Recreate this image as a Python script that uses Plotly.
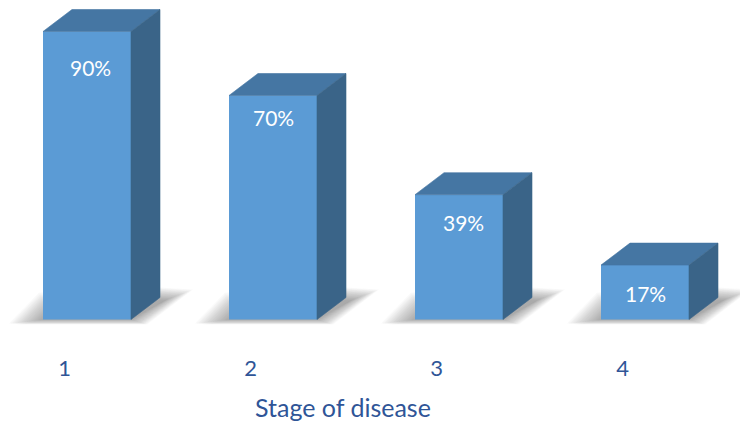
import plotly.graph_objects as go

stages = [1, 2, 3, 4]
stage_labels = ["1", "2", "3", "4"]
percent = [90, 70, 39, 17]
value_labels = ["90%", "70%", "39%", "17%"]
label_shift_x = [3, 0, 4, 0]
label_shift_y = [-36, -22, -28, -28]

FRONT = "#5B9BD5"
TOP = "#4576A3"
SIDE = "#3A6488"
INK = "#2F5597"

WIDTH, HEIGHT = 740, 421
PLOT_BOTTOM = 345
PX_X = 186.0        # pixels per stage
PX_Y = 3.2          # pixels per percentage point
BAR_PX = 88
DEPTH_X, DEPTH_Y = 29, 22
dx = 1 / PX_X
dy = 1 / PX_Y

x_range = [1 - 87 * dx, 1 + (WIDTH - 87) * dx]
y_range = [(319.5 - PLOT_BOTTOM) * dy, 319.5 * dy]


def soft_shadow(stage, layers=20):
    """Stack translucent polygons that tighten towards the foot of the box."""
    left = stage - BAR_PX / 2 * dx
    outer = [(-34, 4), (-4, -27), (117, -32), (150, -30), (104, 5), (-22, 5)]
    inner = [(0, 0), (4, -4), (117, -19), (122, -19), (88, 0), (4, 0)]
    out = []
    for k in range(layers):
        t = k / (layers - 1)
        pts = [
            (left + (a[0] + (b[0] - a[0]) * t) * dx, -(a[1] + (b[1] - a[1]) * t) * dy)
            for a, b in zip(outer, inner)
        ]
        path = "M " + " L ".join(f"{x:.4f} {y:.4f}" for x, y in pts) + " Z"
        out.append(dict(type="path", path=path, xref="x", yref="y", layer="below",
                        fillcolor="rgba(90,90,90,0.026)", line=dict(width=0)))
    return out


fig = go.Figure()

# Front faces
fig.add_trace(go.Bar(x=stages, y=percent, width=BAR_PX * dx,
                     marker=dict(color=FRONT, line=dict(width=0)), hoverinfo="skip"))

half = BAR_PX / 2 * dx
ox, oy = DEPTH_X * dx, DEPTH_Y * dy

# Top and side faces of each box
for s, v in zip(stages, percent):
    fig.add_trace(go.Scatter(
        x=[s - half, s + half, s + half + ox, s - half + ox, s - half],
        y=[v, v, v + oy, v + oy, v],
        mode="lines", fill="toself", fillcolor=TOP,
        line=dict(width=0.6, color=TOP), hoverinfo="skip"))
    fig.add_trace(go.Scatter(
        x=[s + half, s + half + ox, s + half + ox, s + half, s + half],
        y=[v, v + oy, oy, 0, v],
        mode="lines", fill="toself", fillcolor=SIDE,
        line=dict(width=0.6, color=SIDE), hoverinfo="skip"))

shapes = []
for s in stages:
    shapes += soft_shadow(s)

annotations = [
    dict(x=s, y=v, xref="x", yref="y", text=t, showarrow=False, xanchor="center",
         yanchor="middle", xshift=sx, yshift=sy,
         font=dict(family="Lato", size=21, color="white"))
    for s, v, t, sx, sy in zip(stages, percent, value_labels, label_shift_x, label_shift_y)
]
# Axis caption sits left of the plot centre, so it is placed as an annotation
annotations.append(dict(x=343 / WIDTH, y=(PLOT_BOTTOM - 407) / PLOT_BOTTOM,
                        xref="paper", yref="paper", text="Stage of disease",
                        showarrow=False, xanchor="center", yanchor="middle",
                        font=dict(family="Lato", size=25, color=INK)))

fig.update_layout(
    width=WIDTH, height=HEIGHT,
    margin=dict(l=0, r=0, t=0, b=HEIGHT - PLOT_BOTTOM),
    paper_bgcolor="white", plot_bgcolor="rgba(0,0,0,0)",
    showlegend=False, shapes=shapes, annotations=annotations,
    xaxis=dict(range=x_range, tickmode="array",
               tickvals=[s - 22.3 * dx for s in stages], ticktext=stage_labels,
               showgrid=False, zeroline=False, showline=False,
               ticks="outside", ticklen=4, tickcolor="rgba(0,0,0,0)",
               tickfont=dict(family="Lato", size=22, color=INK)),
    yaxis=dict(range=y_range, visible=False, showgrid=False, zeroline=False),
)

fig.write_html("out.html", config=dict(displayModeBar=False))
